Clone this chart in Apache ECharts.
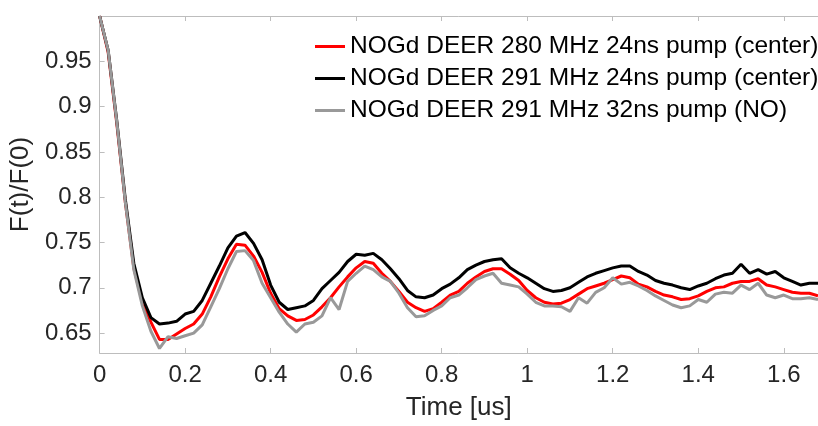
<!DOCTYPE html>
<html>
<head>
<meta charset="utf-8">
<script src="https://cdn.jsdelivr.net/npm/echarts@6/dist/echarts.min.js"></script>
<style>
  html, body { margin: 0; padding: 0; background: #fff; }
</style>
</head>
<body>
<div style="width:818px;height:426px;" id="deer-trace"></div>
<script>
// time axis [us]
const time = [
  0.00, 0.02, 0.04, 0.06, 0.08, 0.10, 0.12, 0.14, 0.16, 0.18,
  0.20, 0.22, 0.24, 0.26, 0.28, 0.30, 0.32, 0.34, 0.36, 0.38,
  0.40, 0.42, 0.44, 0.46, 0.48, 0.50, 0.52, 0.54, 0.56, 0.58,
  0.60, 0.62, 0.64, 0.66, 0.68, 0.70, 0.72, 0.74, 0.76, 0.78,
  0.80, 0.82, 0.84, 0.86, 0.88, 0.90, 0.92, 0.94, 0.96, 0.98,
  1.00, 1.02, 1.04, 1.06, 1.08, 1.10, 1.12, 1.14, 1.16, 1.18,
  1.20, 1.22, 1.24, 1.26, 1.28, 1.30, 1.32, 1.34, 1.36, 1.38,
  1.40, 1.42, 1.44, 1.46, 1.48, 1.50, 1.52, 1.54, 1.56, 1.58,
  1.60, 1.62, 1.64, 1.66, 1.68
];
// NOGd DEER 280 MHz 24ns pump (center)
const red280 = [
  1.000, 0.960, 0.882, 0.795, 0.722, 0.684, 0.662, 0.643, 0.643, 0.649,
  0.655, 0.660, 0.671, 0.690, 0.712, 0.732, 0.748, 0.747, 0.735, 0.717,
  0.694, 0.677, 0.669, 0.664, 0.665, 0.670, 0.679, 0.689, 0.701, 0.712,
  0.722, 0.729, 0.727, 0.716, 0.707, 0.696, 0.684, 0.678, 0.674, 0.677,
  0.684, 0.692, 0.696, 0.705, 0.712, 0.718, 0.721, 0.721, 0.715, 0.708,
  0.697, 0.689, 0.684, 0.682, 0.683, 0.687, 0.693, 0.699, 0.702, 0.705,
  0.709, 0.713, 0.711, 0.704, 0.701, 0.696, 0.692, 0.690, 0.687, 0.688,
  0.691, 0.696, 0.700, 0.701, 0.705, 0.707, 0.707, 0.710, 0.703, 0.701,
  0.698, 0.695, 0.694, 0.694, 0.691
];
// NOGd DEER 291 MHz 24ns pump (center)
const black291 = [
  1.000, 0.962, 0.885, 0.798, 0.727, 0.689, 0.667, 0.660, 0.661, 0.663,
  0.671, 0.674, 0.686, 0.705, 0.724, 0.744, 0.757, 0.761, 0.749, 0.731,
  0.703, 0.684, 0.676, 0.678, 0.680, 0.686, 0.699, 0.708, 0.717, 0.729,
  0.737, 0.736, 0.738, 0.731, 0.721, 0.710, 0.697, 0.690, 0.689, 0.692,
  0.699, 0.704, 0.711, 0.720, 0.725, 0.729, 0.731, 0.732, 0.722, 0.716,
  0.711, 0.705, 0.699, 0.696, 0.697, 0.700, 0.706, 0.712, 0.716, 0.719,
  0.722, 0.724, 0.724, 0.718, 0.714, 0.708, 0.705, 0.703, 0.700, 0.698,
  0.702, 0.705, 0.710, 0.714, 0.716, 0.726, 0.716, 0.720, 0.715, 0.718,
  0.711, 0.707, 0.703, 0.705, 0.705
];
// NOGd DEER 291 MHz 32ns pump (NO)
const gray291 = [
  1.000, 0.962, 0.884, 0.795, 0.720, 0.680, 0.652, 0.633, 0.646, 0.644,
  0.647, 0.650, 0.659, 0.679, 0.699, 0.721, 0.740, 0.741, 0.730, 0.705,
  0.689, 0.673, 0.660, 0.651, 0.660, 0.662, 0.669, 0.689, 0.676, 0.707,
  0.716, 0.724, 0.720, 0.712, 0.707, 0.694, 0.678, 0.668, 0.669, 0.675,
  0.680, 0.689, 0.692, 0.700, 0.709, 0.713, 0.716, 0.705, 0.703, 0.701,
  0.693, 0.684, 0.680, 0.680, 0.679, 0.674, 0.689, 0.683, 0.695, 0.700,
  0.711, 0.704, 0.706, 0.702, 0.697, 0.691, 0.686, 0.681, 0.678, 0.680,
  0.687, 0.684, 0.693, 0.695, 0.694, 0.703, 0.698, 0.705, 0.692, 0.689,
  0.692, 0.688, 0.688, 0.689, 0.687
];
const xTicks = [0, 0.2, 0.4, 0.6, 0.8, 1, 1.2, 1.4, 1.6];
const yTicks = [0.65, 0.7, 0.75, 0.8, 0.85, 0.9, 0.95];

function pairs(ys) {
    return time.map(function (t, i) { return [t, ys[i]]; });
}

var chart = echarts.init(document.getElementById('deer-trace'));
var font = 'Liberation Sans, Arial, sans-serif';
var axisGrey = '#bdbdbd';
var option = {
    animation: false,
    textStyle: { fontFamily: font },
    grid: { left: 92, right: 0, top: 16, bottom: 71 },
    legend: {
        orient: 'vertical',
        left: 310,
        top: 29,
        icon: 'rect',
        itemWidth: 30,
        itemHeight: 3,
        itemGap: 7,
        textStyle: { fontSize: 24.5, color: '#000', fontFamily: font, lineHeight: 25 },
        data: [
            'NOGd DEER 280 MHz 24ns pump (center)',
            'NOGd DEER 291 MHz 24ns pump (center)',
            'NOGd DEER 291 MHz 32ns pump (NO)'
        ]
    },
    xAxis: [
        {
            type: 'value',
            min: 0,
            max: 1.68,
            name: 'Time [us]',
            nameLocation: 'middle',
            nameGap: 42,
            nameTextStyle: { fontSize: 26, color: '#262626', fontFamily: font },
            axisLine: { lineStyle: { color: axisGrey, width: 1 } },
            axisTick: { inside: true, length: 5, customValues: xTicks, lineStyle: { color: axisGrey } },
            axisLabel: { customValues: xTicks, fontSize: 24, color: '#262626', margin: 10, fontFamily: font },
            splitLine: { show: false }
        },
        {
            type: 'value',
            position: 'top',
            min: 0,
            max: 1.68,
            axisLine: { lineStyle: { color: axisGrey, width: 1 } },
            axisTick: { inside: true, length: 5, customValues: xTicks, lineStyle: { color: axisGrey } },
            axisLabel: { show: false },
            splitLine: { show: false }
        }
    ],
    yAxis: {
        type: 'value',
        min: 0.628,
        max: 1.0,
        name: 'F(t)/F(0)',
        nameLocation: 'middle',
        nameGap: 60,
        nameTextStyle: { fontSize: 26, color: '#262626', fontFamily: font },
        axisLine: { show: true, lineStyle: { color: axisGrey, width: 1 } },
        axisTick: { show: true, inside: true, length: 5, customValues: yTicks, lineStyle: { color: axisGrey } },
        axisLabel: { customValues: yTicks, fontSize: 24, color: '#262626', margin: 8, fontFamily: font },
        splitLine: { show: false }
    },
    series: [
        {
            name: 'NOGd DEER 280 MHz 24ns pump (center)',
            type: 'line',
            showSymbol: false,
            symbol: 'none',
            color: '#ff0000',
            lineStyle: { width: 3, color: '#ff0000' },
            data: pairs(red280)
        },
        {
            name: 'NOGd DEER 291 MHz 24ns pump (center)',
            type: 'line',
            showSymbol: false,
            symbol: 'none',
            color: '#000000',
            lineStyle: { width: 3, color: '#000000' },
            data: pairs(black291)
        },
        {
            name: 'NOGd DEER 291 MHz 32ns pump (NO)',
            type: 'line',
            showSymbol: false,
            symbol: 'none',
            color: '#999999',
            lineStyle: { width: 3, color: '#999999' },
            data: pairs(gray291)
        }
    ]
};
chart.setOption(option);
</script>
</body>
</html>
